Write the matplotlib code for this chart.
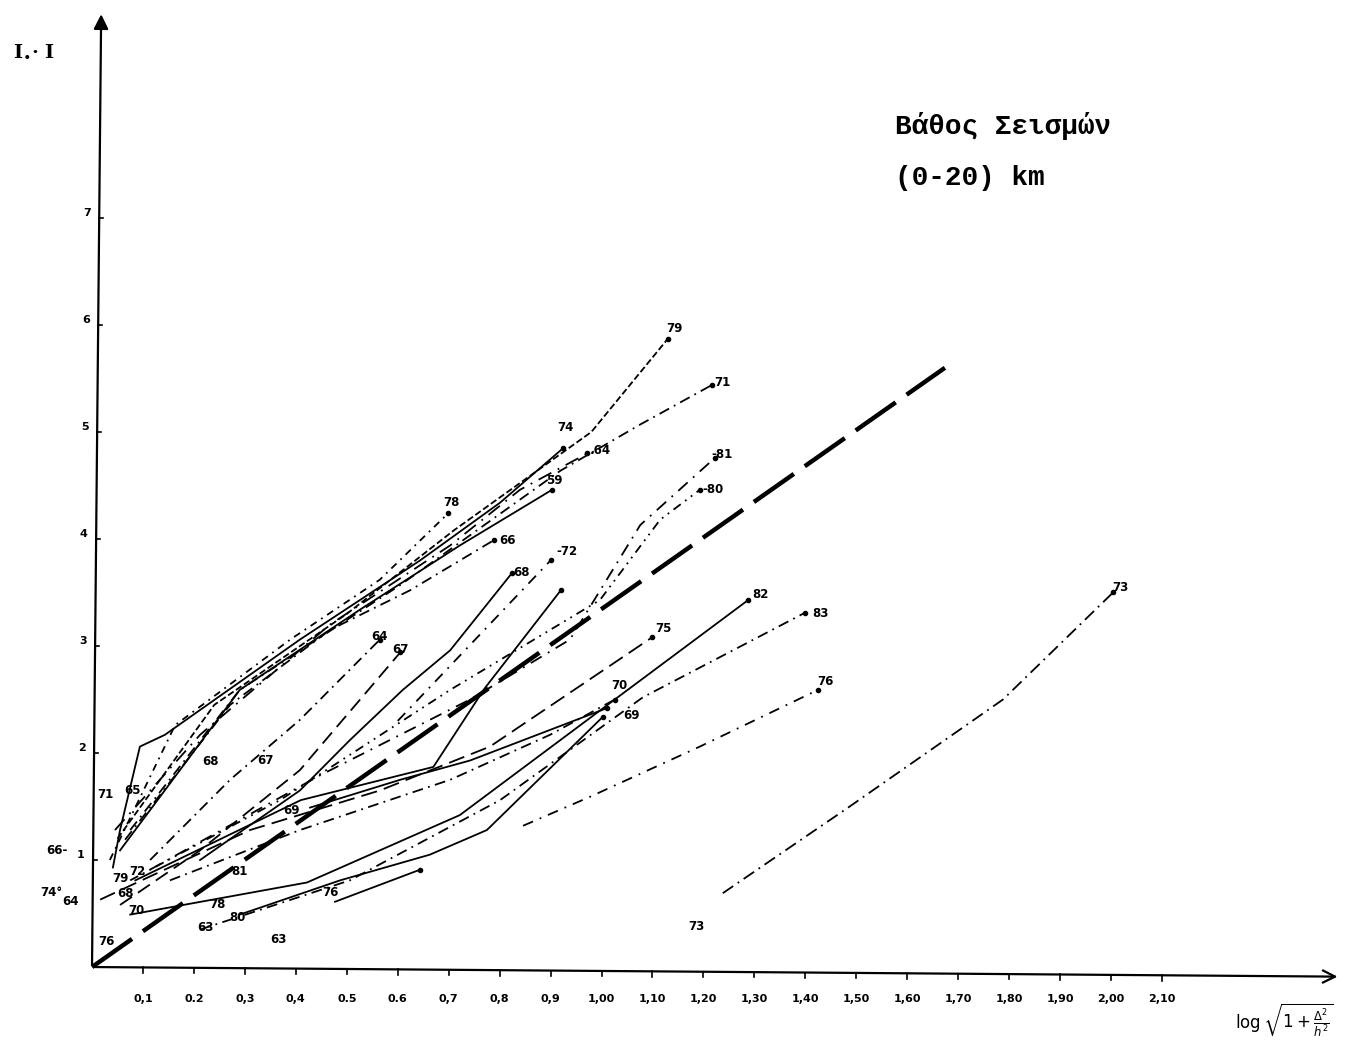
import matplotlib.pyplot as plt

# axis scales
x_ticks = [0.1, 0.2, 0.3, 0.4, 0.5, 0.6, 0.7, 0.8, 0.9, 1.0, 1.1, 1.2, 1.3, 1.4, 1.5, 1.6, 1.7, 1.8, 1.9, 2.0, 2.1]
x_tick_labels = ["0,1", "0.2", "0,3", "0,4", "0.5", "0.6", "0,7", "0,8", "0,9", "1,00", "1,10",
                 "1,20", "1,30", "1,40", "1,50", "1,60", "1,70", "1,80", "1,90", "2,00", "2,10"]
y_ticks = [1, 2, 3, 4, 5, 6, 7]

# reference line (thick dashed)
ref_x = [0.0, 1.674]
ref_y = [0.0, 5.60]

# one polyline per earthquake: (x values, y values)
series_79 = ([0.05, 0.24, 0.50, 0.71, 0.98, 1.13], [1.20, 2.45, 3.30, 4.08, 5.00, 5.87])
series_71 = ([0.075, 0.29, 0.605, 0.92, 1.076, 1.217], [1.28, 2.59, 3.57, 4.64, 5.07, 5.44])
series_74 = ([0.041, 0.055, 0.094, 0.143, 0.408, 0.644, 0.801, 0.925], [0.93, 1.28, 2.06, 2.17, 3.06, 3.80, 4.34, 4.85])
series_64a = ([0.045, 0.212, 0.467, 0.703, 0.84, 0.972], [1.28, 2.17, 3.20, 3.94, 4.46, 4.80])
series_78 = ([0.035, 0.163, 0.389, 0.565, 0.699], [1.00, 2.26, 3.06, 3.62, 4.24])
series_59 = ([0.055, 0.29, 0.526, 0.722, 0.903], [1.09, 2.59, 3.34, 3.94, 4.46])
series_66 = ([0.065, 0.271, 0.467, 0.624, 0.789], [1.19, 2.45, 3.15, 3.52, 3.99])
series_81 = ([0.114, 0.447, 0.742, 0.938, 1.076, 1.223], [0.91, 1.79, 2.50, 3.06, 4.13, 4.76])
series_80 = ([0.075, 0.369, 0.703, 0.997, 1.115, 1.193], [0.81, 1.56, 2.59, 3.43, 4.18, 4.46])
series_72 = ([0.085, 0.41, 0.67, 0.77, 0.92], [0.81, 1.56, 1.87, 2.60, 3.52])
series_72b = ([0.60, 0.75, 0.90], [2.30, 3.05, 3.80])
series_68 = ([0.212, 0.408, 0.506, 0.61, 0.703, 0.824], [1.00, 1.65, 2.12, 2.59, 2.96, 3.68])
series_64b = ([0.114, 0.271, 0.408, 0.565], [1.00, 1.75, 2.31, 3.06])
series_67 = ([0.055, 0.212, 0.408, 0.605], [0.58, 1.09, 1.84, 2.94])
series_82 = ([0.075, 0.422, 0.722, 0.964, 1.288], [0.49, 0.79, 1.42, 2.28, 3.43])
series_83 = ([0.212, 0.506, 0.801, 1.081, 1.399], [0.35, 0.81, 1.56, 2.52, 3.31])
series_75 = ([0.016, 0.31, 0.565, 0.781, 1.099], [0.63, 1.28, 1.65, 2.06, 3.08])
series_76 = ([0.846, 0.977, 1.193, 1.425], [1.32, 1.59, 2.06, 2.59])
series_73 = ([1.238, 1.484, 1.788, 2.004], [0.69, 1.49, 2.50, 3.50])
series_69a = ([0.29, 0.487, 0.663, 0.775, 1.003], [0.49, 0.81, 1.05, 1.28, 2.34])
series_70 = ([0.153, 0.408, 0.703, 0.899, 1.026], [0.81, 1.28, 1.75, 2.17, 2.50])
series_69b = ([0.428, 0.605, 0.742, 1.011], [1.49, 1.75, 1.93, 2.42])
series_76b = ([0.477, 0.644], [0.61, 0.91])

all_series = [series_79, series_71, series_74, series_64a, series_78, series_59, series_66,
              series_81, series_80, series_72, series_68, series_64b, series_67, series_82,
              series_83, series_75, series_76, series_73, series_69a, series_70, series_69b,
              series_76b, series_72b]
styles = ['--', (0, (6, 3, 1, 3)), '-', (0, (8, 4, 1, 4)), (0, (4, 3, 1, 3)), '-', (0, (6, 3, 1, 3)),
          (0, (7, 4, 1, 4)), (0, (5, 3, 1, 3, 1, 3)), '-', '-', (0, (6, 3, 1, 3)), (0, (8, 4)),
          '-', (0, (6, 3, 1, 3)), (0, (9, 4)), (0, (6, 4, 1, 4)), (0, (7, 3, 1, 3)), '-',
          (0, (6, 3, 1, 3)), '-', '-', (0, (6, 4, 1, 4))]

# year labels next to the curves
label_text = ["79", "71", "74", ".64", "-81", "59", "-80", "78", "66", "-72", "68", "82", "73", "83",
              "75", "64", "67", "76", "70", "69", "68", "67", "71", "65", "69", "66-", "72", "79",
              "81", "74°", "64", "68", "70", "76", "78", "80", "63", "73", "63", "76"]
label_x = [1.144, 1.237, 0.93, 0.997, 1.237, 0.907, 1.219, 0.705, 0.815, 0.932, 0.842, 1.311, 2.018, 1.429,
           1.121, 0.565, 0.605, 1.439, 1.036, 1.058, 0.232, 0.34, 0.026, 0.08, 0.391, -0.069, 0.09, 0.055,
           0.29, -0.079, -0.043, 0.065, 0.088, 0.467, 0.247, 0.285, 0.222, 1.187, 0.365, 0.029]
label_y = [5.97, 5.46, 5.04, 4.83, 4.79, 4.55, 4.46, 4.34, 3.99, 3.88, 3.69, 3.48, 3.55, 3.30,
           3.16, 3.09, 2.97, 2.67, 2.63, 2.35, 1.92, 1.93, 1.61, 1.65, 1.46, 1.09, 0.89, 0.83,
           0.89, 0.70, 0.61, 0.69, 0.53, 0.70, 0.58, 0.46, 0.37, 0.38, 0.26, 0.24]

fig = plt.figure(figsize=(13.52, 10.43), dpi=100)
ax = fig.add_axes([0, 0, 1, 1])
ax.set_xlim(-0.1806, 2.473)
ax.set_ylim(-0.710, 9.037)
ax.axis('off')

# axes drawn by hand style
ax.annotate('', xy=(2.45, -0.09), xytext=(0, 0),
            arrowprops=dict(arrowstyle='->', lw=1.6, color='black', mutation_scale=22))
ax.annotate('', xy=(0.018, 8.93), xytext=(0, 0),
            arrowprops=dict(arrowstyle='-|>', lw=1.6, color='black', mutation_scale=22))

for xt, lab in zip(x_ticks, x_tick_labels):
    yb = -0.09 * xt / 2.45
    ax.plot([xt, xt], [yb, yb - 0.05], color='black', lw=1.2)
    ax.text(xt, -0.30, lab, ha='center', va='center', fontsize=8, fontweight='bold')
for yt in y_ticks:
    xb = 0.018 * yt / 8.93
    ax.plot([xb, xb + 0.008], [yt, yt], color='black', lw=1.2)
    ax.text(xb - 0.024, yt + 0.05, str(yt), ha='center', va='center', fontsize=8, fontweight='bold')

ax.plot(ref_x, ref_y, color='black', lw=3.2, dashes=(11, 3), solid_capstyle='butt')

for (xs, ys), st in zip(all_series, styles):
    ax.plot(xs, ys, color='black', lw=1.3, linestyle=st)
    ax.plot(xs[-1], ys[-1], 'o', color='black', ms=3)

for t, lx, ly in zip(label_text, label_x, label_y):
    ax.text(lx, ly, t, ha='center', va='center', fontsize=8.5, fontweight='bold')

ax.text(-0.155, 8.55, r"I$_{\bullet}$· I", fontsize=14, fontweight='bold', family='DejaVu Serif',
        ha='left', va='center')
ax.text(1.577, 7.86, "Βάθος Σεισμών", fontsize=20, fontweight='bold', family='Liberation Mono',
        ha='left', va='center')
ax.text(1.577, 7.37, "(0-20) km", fontsize=20, fontweight='bold', family='Liberation Mono',
        ha='left', va='center')
ax.text(2.34, -0.50, r"$\log\sqrt{1+\frac{\Delta^2}{h^2}}$", fontsize=12, ha='center', va='center')

plt.savefig('out.png', dpi=100)
